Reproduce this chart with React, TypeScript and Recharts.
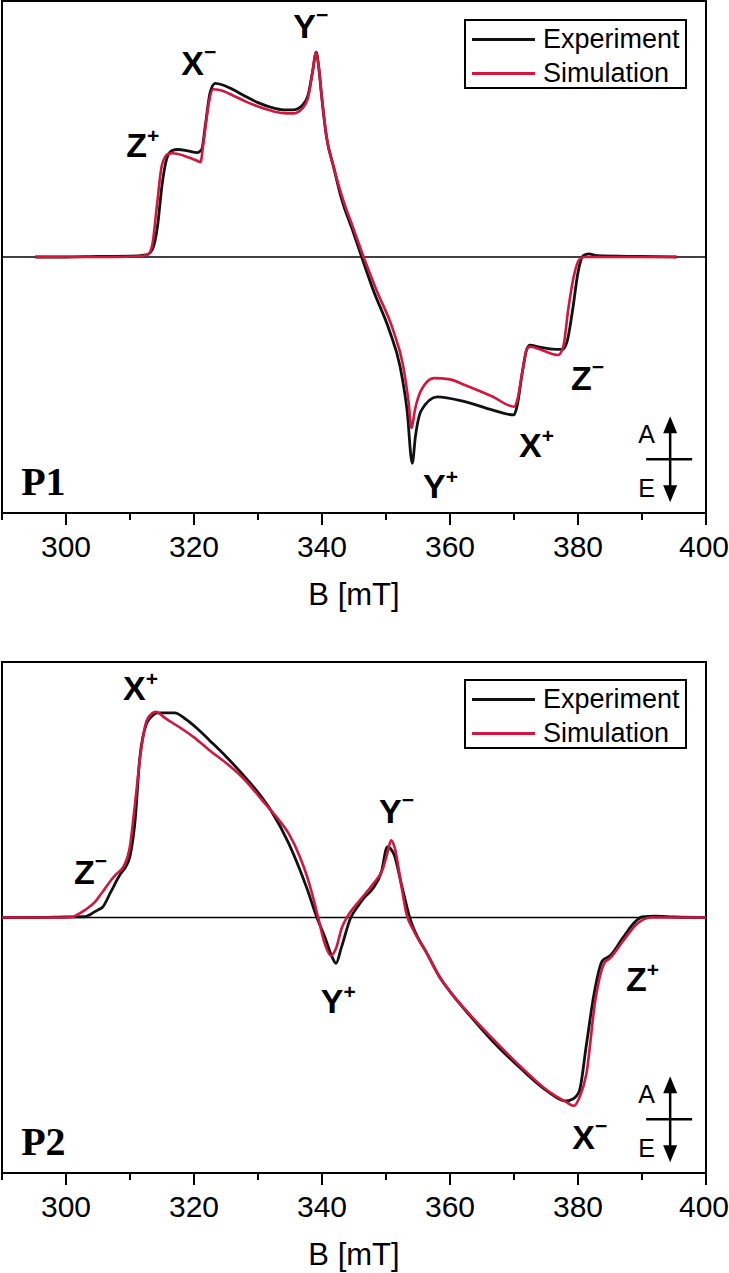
import React from "react";
import {
  LineChart,
  Line,
  XAxis,
  YAxis,
  ReferenceArea,
  ReferenceLine,
  ReferenceDot,
  Legend,
} from "recharts";

const FONT = '"Liberation Sans", Arial, Helvetica, sans-serif';
const SERIF = '"Liberation Serif", "Times New Roman", serif';
const RED = "#d2173f";
const BLACK = "#111";

const bTicks = [290, 300, 310, 320, 330, 340, 350, 360, 370, 380, 390, 400];
const seriesNames = ["Experiment", "Simulation"];

// P1 experiment
const p1ExpB = [
  295.2, 300, 305, 310, 312.5, 313.5, 314.3, 315.0, 315.7, 316.5, 317.5, 319, 320.5, 321.2, 321.8,
  322.5, 323.3, 324.5, 326, 328, 330, 332, 334, 335.5, 336.9, 337.8, 338.5, 339.1, 339.5, 339.95,
  340.7, 341.8, 343.1, 344.7, 346.2, 348.0, 350.5, 352.2, 353.3, 354.1, 354.6, 355.5, 358.0, 362.3,
  366.7, 370.0, 370.5, 371.3, 372.0, 372.5, 374, 376, 377.6, 378.3, 379.2, 380, 380.8, 381.7, 383,
  390, 395.4,
];
const p1ExpV = [
  0, 0, 0.002, 0.003, 0.008, 0.03, 0.12, 0.28, 0.38, 0.415, 0.42, 0.415, 0.408, 0.42, 0.52,
  0.64, 0.678, 0.672, 0.655, 0.628, 0.603, 0.585, 0.575, 0.575, 0.592, 0.63, 0.72, 0.8, 0.74, 0.626,
  0.47, 0.353, 0.223, 0.11, 0, -0.129, -0.285, -0.428, -0.6, -0.806, -0.7, -0.6, -0.546, -0.565,
  -0.598, -0.617, -0.58, -0.45, -0.36, -0.344, -0.352, -0.36, -0.361, -0.33, -0.2, -0.06, 0.005, 0.012, 0.005,
  0.002, 0,
];

// P1 simulation
const p1SimB = [
  295.2, 305, 311, 312.8, 313.5, 314.2, 315, 316, 316.7, 318.5, 320.5, 321.0, 321.5, 322.3, 323,
  324, 326, 328, 330, 332, 334, 335.5, 336.9, 337.8, 338.5, 339.1, 339.5, 339.95, 340.7, 341.8,
  343.3, 344.9, 346.5, 348.5, 351.1, 352.7, 353.5, 354.0, 354.5, 355.5, 357.5, 360, 362.3, 366.7,
  370, 370.5, 371.3, 372.0, 372.5, 374, 376.9, 377.7, 378.5, 379.3, 380.2, 381, 395.4,
];
const p1SimV = [
  0, 0, 0.002, 0.01, 0.05, 0.2, 0.36, 0.403, 0.405, 0.395, 0.376, 0.37, 0.45, 0.6, 0.655,
  0.652, 0.632, 0.608, 0.588, 0.572, 0.562, 0.561, 0.58, 0.62, 0.72, 0.8, 0.74, 0.63, 0.47, 0.353,
  0.223, 0.112, 0, -0.129, -0.285, -0.428, -0.56, -0.668, -0.6, -0.52, -0.473, -0.478, -0.5, -0.546,
  -0.585, -0.56, -0.45, -0.36, -0.35, -0.36, -0.383, -0.35, -0.2, -0.08, -0.01, 0, 0,
];

// P2 experiment
const p2ExpB = [
  290, 295, 300, 303, 304, 305, 305.7, 307, 308.5, 309.3, 310.0, 310.8, 311.5, 312.6, 313.5,
  314.3, 317, 318.5, 320.5, 322.4, 325, 327.5, 330, 332, 334.8, 336.5, 337.7, 339.2, 340.5,
  341.5, 342.2, 343, 344.5, 345.5, 346.5, 348, 349.3, 350.2, 351.2, 352.5, 353.7, 356.5, 358.4,
  360, 362.3, 366.7, 371.1, 375.4, 378, 379.2, 380.2, 381.3, 382.5, 383.8, 385, 387, 389, 390, 392,
  395, 400,
];
const p2ExpV = [
  0, 0, 0.002, 0.003, 0.015, 0.03, 0.04, 0.1, 0.17, 0.197, 0.24, 0.38, 0.616, 0.76, 0.79,
  0.801, 0.801, 0.78, 0.74, 0.694, 0.63, 0.563, 0.49, 0.42, 0.29, 0.19, 0.11, 0, -0.08,
  -0.15, -0.179, -0.12, 0, 0.04, 0.075, 0.115, 0.18, 0.276, 0.25, 0.12, 0, -0.145, -0.234,
  -0.29, -0.36, -0.485, -0.592, -0.683, -0.718, -0.71, -0.68, -0.5, -0.3, -0.17, -0.15, -0.08, -0.015, 0.002, 0.005,
  0.002, 0,
];

// P2 simulation
const p2SimB = [
  290, 298, 301, 301.7, 303, 304.5, 305.7, 307, 307.9, 309, 310.0, 310.8, 311.7, 312.6, 313.5,
  314.0, 315.5, 318, 320, 322.4, 325, 327.5, 331.1, 333, 334.8, 336.5, 337.7, 338.7, 339.4,
  340.4, 341.4, 342.2, 343.1, 343.9, 345.9, 348.0, 349.5, 350.2, 350.8, 351.4, 352.3, 353.2, 354.3,
  356.5, 358.4, 360, 362.3, 366.7, 371.1, 375.4, 378, 379.4, 380.3, 381.3, 382.7, 384.2, 384.9,
  387.1, 389.2, 391.4, 400,
];
const p2SimV = [
  0, 0, 0.002, 0.01, 0.03, 0.06, 0.1, 0.145, 0.171, 0.2, 0.28, 0.45, 0.65, 0.77, 0.8,
  0.805, 0.78, 0.74, 0.705, 0.655, 0.605, 0.55, 0.446, 0.39, 0.328, 0.24, 0.158, 0.07, 0,
  -0.1, -0.149, -0.12, -0.04, 0, 0.067, 0.132, 0.19, 0.25, 0.302, 0.27, 0.14, 0.014, -0.05,
  -0.145, -0.234, -0.29, -0.358, -0.475, -0.585, -0.68, -0.72, -0.737, -0.7, -0.613, -0.325, -0.175, -0.162,
  -0.09, -0.025, 0, 0,
];

// transition labels (letter, superscript, B, amplitude of baseline)
const p1Labels = [
  { main: "Z", sup: "+", b: 309.4, v: 0.39 },
  { main: "X", sup: "\u2212", b: 318.0, v: 0.711 },
  { main: "Y", sup: "\u2212", b: 335.5, v: 0.855 },
  { main: "Y", sup: "+", b: 355.8, v: -0.941 },
  { main: "X", sup: "+", b: 370.8, v: -0.781 },
  { main: "Z", sup: "\u2212", b: 378.9, v: -0.52 },
];
const p2Labels = [
  { main: "X", sup: "+", b: 308.9, v: 0.851 },
  { main: "Z", sup: "\u2212", b: 301.25, v: 0.133 },
  { main: "Y", sup: "\u2212", b: 348.9, v: 0.369 },
  { main: "Y", sup: "+", b: 339.8, v: -0.373 },
  { main: "Z", sup: "+", b: 387.5, v: -0.286 },
  { main: "X", sup: "\u2212", b: 379.1, v: -0.906 },
];

const zip = (bs: number[], vs: number[]) => bs.map((b, i) => ({ b, v: vs[i] }));

const AxisTick = (props: any) => {
  const { x, y, payload } = props;
  const major = payload.value % 20 === 0;
  // keep the last label inside the page edge
  const tx = Math.min(x, 729 - 25);
  return (
    <g>
      <line x1={x} x2={x} y1={y} y2={y + (major ? 12 : 7)} stroke="#000" strokeWidth={2} />
      {major && (
        <text x={tx} y={y + 44} textAnchor="middle" fontSize={30} fill="#000" fontFamily={FONT}>
          {payload.value}
        </text>
      )}
    </g>
  );
};

const peakLabel = (main: string, sup: string) => (props: any) => {
  const { viewBox } = props;
  return (
    <text x={viewBox.x} y={viewBox.y} fontSize={34} fontWeight="bold" fill="#000" fontFamily={FONT}>
      {main}
      <tspan fontSize={21} dy={sup === "+" ? -14 : -16}>
        {sup}
      </tspan>
    </text>
  );
};

const panelLabel = (text: string) => (props: any) => {
  const { viewBox } = props;
  return (
    <text x={viewBox.x} y={viewBox.y} fontSize={40} fontWeight="bold" fill="#000" fontFamily={SERIF}>
      {text}
    </text>
  );
};

const aeArrow = (props: any) => {
  const { viewBox } = props;
  const cx = viewBox.x;
  const cy = viewBox.y;
  return (
    <g>
      <line x1={cx} x2={cx} y1={cy - 30} y2={cy + 30} stroke="#000" strokeWidth={2.5} />
      <polygon points={`${cx},${cy - 43} ${cx - 7},${cy - 26} ${cx + 7},${cy - 26}`} fill="#000" />
      <polygon points={`${cx},${cy + 43} ${cx - 7},${cy + 26} ${cx + 7},${cy + 26}`} fill="#000" />
      <line x1={cx - 24} x2={cx + 22} y1={cy} y2={cy} stroke="#000" strokeWidth={2.5} />
      <text x={cx - 32} y={cy - 16} fontSize={25} fill="#000" fontFamily={FONT}>
        A
      </text>
      <text x={cx - 32} y={cy + 38} fontSize={25} fill="#000" fontFamily={FONT}>
        E
      </text>
    </g>
  );
};

const LegendBox = (props: any) => {
  const { payload } = props;
  return (
    <div
      style={{
        width: 223,
        height: 70,
        border: "2px solid #000",
        boxSizing: "border-box",
        position: "relative",
        background: "#fff",
      }}
    >
      {(payload || []).map((p: any, i: number) => (
        <div
          key={p.value}
          style={{
            position: "absolute",
            left: 6,
            top: 3 + i * 34,
            height: 30,
            display: "flex",
            alignItems: "center",
            whiteSpace: "nowrap",
          }}
        >
          <span style={{ display: "inline-block", width: 63, height: 3, background: p.color }} />
          <span
            style={{
              marginLeft: 8,
              fontSize: 27,
              lineHeight: "30px",
              fontFamily: FONT,
              color: "#000",
            }}
          >
            {p.value}
          </span>
        </div>
      ))}
    </div>
  );
};

function Panel({
  name,
  exp,
  sim,
  labels,
  top,
}: {
  name: string;
  exp: { b: number; v: number }[];
  sim: { b: number; v: number }[];
  labels: { main: string; sup: string; b: number; v: number }[];
  top: number;
}) {
  return (
    <LineChart width={729} height={613} margin={{ top, right: 23, bottom: 0, left: 2 }}>
      <XAxis
        type="number"
        dataKey="b"
        domain={[290, 400]}
        ticks={bTicks}
        interval={0}
        allowDataOverflow
        height={100}
        axisLine={false}
        tickLine={false}
        tickSize={0}
        tickMargin={0}
        tick={AxisTick}
        label={{
          value: "B [mT]",
          position: "insideBottom",
          offset: 8,
          fontSize: 31,
          fill: "#000",
          fontFamily: FONT,
        }}
      />
      <YAxis type="number" domain={[-1, 1]} allowDataOverflow hide width={0} />
      <ReferenceLine y={0} stroke="#000" strokeWidth={1.5} />
      <Line
        data={exp}
        dataKey="v"
        name={seriesNames[0]}
        type="monotone"
        stroke={BLACK}
        strokeWidth={2.8}
        dot={false}
        isAnimationActive={false}
      />
      <Line
        data={sim}
        dataKey="v"
        name={seriesNames[1]}
        type="monotone"
        stroke={RED}
        strokeWidth={2.6}
        dot={false}
        isAnimationActive={false}
      />
      <ReferenceArea x1={290} x2={400} y1={-1} y2={1} fill="none" stroke="#000" strokeWidth={2} />
      {labels.map((l, i) => (
        <ReferenceDot
          key={i}
          x={l.b}
          y={l.v}
          r={0}
          fill="none"
          stroke="none"
          label={peakLabel(l.main, l.sup)}
        />
      ))}
      <ReferenceDot x={293} y={-0.93} r={0} fill="none" stroke="none" label={panelLabel(name)} />
      <ReferenceDot x={394.4} y={-0.79} r={0} fill="none" stroke="none" label={aeArrow} />
      <Legend
        layout="vertical"
        align="center"
        verticalAlign="middle"
        content={LegendBox}
        wrapperStyle={{ position: "absolute", top: 19, left: 464, width: 223, height: 70 }}
      />
    </LineChart>
  );
}

export default function App() {
  return (
    <div style={{ position: "absolute", left: 0, top: 0, width: 729, height: 1273, background: "#fff" }}>
      <div style={{ position: "absolute", left: 0, top: 0 }}>
        <Panel name="P1" exp={zip(p1ExpB, p1ExpV)} sim={zip(p1SimB, p1SimV)} labels={p1Labels} top={1} />
      </div>
      <div style={{ position: "absolute", left: 0, top: 660 }}>
        <Panel name="P2" exp={zip(p2ExpB, p2ExpV)} sim={zip(p2SimB, p2SimV)} labels={p2Labels} top={2} />
      </div>
    </div>
  );
}
